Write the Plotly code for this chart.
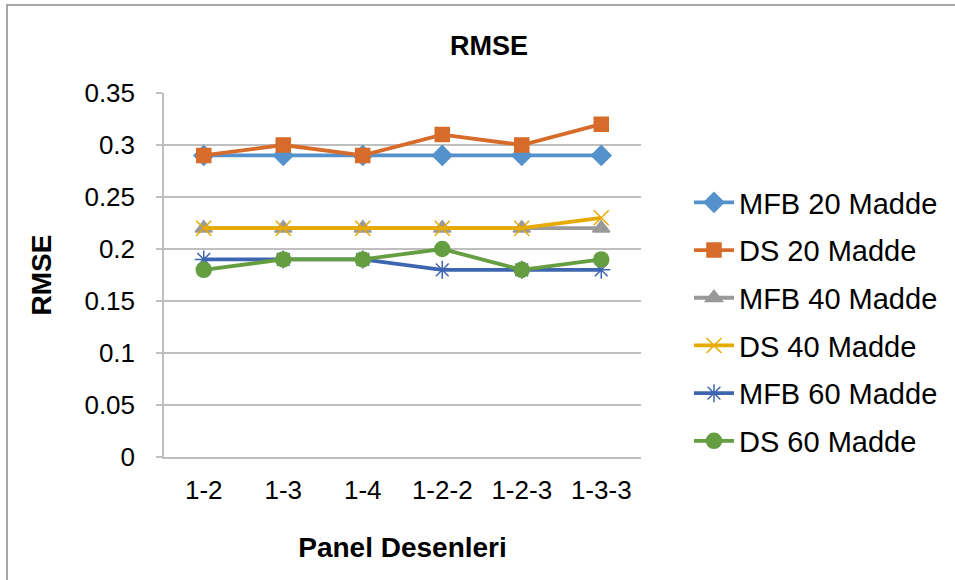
import plotly.graph_objects as go

categories = ["1-2", "1-3", "1-4", "1-2-2", "1-2-3", "1-3-3"]

mfb_20 = [0.29, 0.29, 0.29, 0.29, 0.29, 0.29]
ds_20 = [0.29, 0.30, 0.29, 0.31, 0.30, 0.32]
mfb_40 = [0.22, 0.22, 0.22, 0.22, 0.22, 0.22]
ds_40 = [0.22, 0.22, 0.22, 0.22, 0.22, 0.23]
mfb_60 = [0.19, 0.19, 0.19, 0.18, 0.18, 0.18]
ds_60 = [0.18, 0.19, 0.19, 0.20, 0.18, 0.19]

y_ticks = [0, 0.05, 0.1, 0.15, 0.2, 0.25, 0.3, 0.35]
y_tick_text = ["0", "0.05", "0.1", "0.15", "0.2", "0.25", "0.3", "0.35"]

series = [
    ("MFB 20 Madde", mfb_20, "#5592CB", "diamond", 15),
    ("DS 20 Madde", ds_20, "#D76B2A", "square", 14),
    ("MFB 40 Madde", mfb_40, "#999999", "triangle-up", 15),
    ("DS 40 Madde", ds_40, "#E6AA00", "x-thin-open", 15),
    ("MFB 60 Madde", mfb_60, "#3E66B0", "asterisk-open", 15),
    ("DS 60 Madde", ds_60, "#659E40", "circle", 15),
]

FONT = "Liberation Sans, Arial, sans-serif"

fig = go.Figure()
for i, (name, vals, color, symbol, size) in enumerate(series):
    fig.add_trace(go.Scatter(
        x=categories, y=vals, name=name, mode="lines+markers",
        legendgroup=f"g{i}",
        line=dict(color=color, width=3.8),
        marker=dict(symbol=symbol, size=size, color=color,
                    line=dict(color=color, width=1.5)),
    ))

W, H = 955, 580
ml, mr, mt, mb = 164, 314, 93, 123
pw, ph = W - ml - mr, H - mt - mb

fig.update_layout(
    width=W, height=H,
    margin=dict(l=ml, r=mr, t=mt, b=mb, pad=0),
    paper_bgcolor="white", plot_bgcolor="white",
    font=dict(family=FONT, color="black"),
    title=dict(text="<b>RMSE</b>", x=(489 - ml) / pw, xref="paper",
               xanchor="center", y=1 - 46 / H, yanchor="middle",
               font=dict(size=27, family=FONT)),
    legend=dict(x=(689 - ml) / pw, y=(457 - 322) / ph, xanchor="left",
                yanchor="middle",
                font=dict(size=29, family=FONT), tracegroupgap=7,
                bgcolor="rgba(0,0,0,0)", itemwidth=40),
    showlegend=True,
    xaxis=dict(
        type="category", range=[-0.5, 5.5],
        showgrid=False, showline=True, linecolor="#BFBFBF", linewidth=1.5,
        ticks="", tickfont=dict(size=26, family=FONT),
        ticklabelstandoff=9,
        title=dict(text="<b>Panel Desenleri</b>", font=dict(size=28, family=FONT),
                   standoff=33),
    ),
    yaxis=dict(
        range=[0, 0.35], tickvals=y_ticks, ticktext=y_tick_text,
        showgrid=True, gridcolor="#BFBFBF", gridwidth=1.5,
        showline=True, linecolor="#BFBFBF", linewidth=1.5,
        ticks="outside", ticklen=6, tickcolor="#BFBFBF", tickwidth=1.5,
        tickfont=dict(size=26, family=FONT), ticklabelstandoff=16,
        zeroline=False,
        title=dict(text="<b>RMSE</b>", font=dict(size=28, family=FONT),
                   standoff=25),
    ),
)

# Outer chart frame
fig.add_shape(type="rect", xref="paper", yref="paper",
              x0=(7 - ml) / pw, x1=(W + 20 - ml) / pw,
              y0=-(mb + 20) / ph, y1=(H - mb - 5) / ph,
              line=dict(color="#8C8C8C", width=1.5), layer="below")

fig.write_html("out.html")
